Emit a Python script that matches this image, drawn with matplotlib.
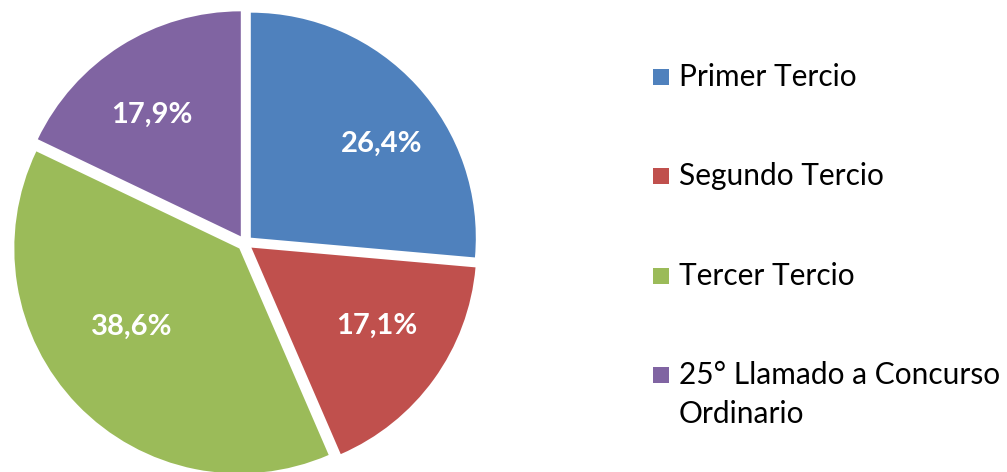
import matplotlib
matplotlib.use("Agg")
import matplotlib.pyplot as plt
from matplotlib.patches import Rectangle

# Data
categories = ["Primer Tercio", "Segundo Tercio", "Tercer Tercio",
              "25° Llamado a Concurso\nOrdinario"]
shares = [26.4, 17.1, 38.6, 17.9]
colors = ["#4F81BD", "#C0504D", "#9BBB59", "#8064A2"]

# Layout
W, H, DPI = 1007, 472, 100
R_PX = 225.0                     # pie radius in pixels
CX, CY = 245.0, 243.0            # pie centre (pixels from top-left)
label_pos = [(0.609, 0.44), (0.587, -0.369), (-0.502, -0.374), (-0.413, 0.57)]
font = "Lato"

fig = plt.figure(figsize=(W / DPI, H / DPI), dpi=DPI)
fig.patch.set_facecolor("white")

lim = 1.1
side = 2 * lim * R_PX
ax = fig.add_axes([(CX - side / 2) / W, ((H - CY) - side / 2) / H, side / W, side / H])
wedges, _ = ax.pie(shares, colors=colors, startangle=90, counterclock=False,
                   explode=[0.035] * len(shares), radius=1.0,
                   wedgeprops=dict(linewidth=0))
ax.set_xlim(-lim, lim)
ax.set_ylim(-lim, lim)
ax.set_aspect("equal")
ax.axis("off")

for v, (x, y) in zip(shares, label_pos):
    ax.text(x, y, f"{v:.1f}%".replace(".", ","), ha="center", va="center",
            color="white", fontsize=21, fontweight="bold", family=font)

# Legend drawn as squares and labels
leg_x, leg_y0, leg_step, sq = 653, 77, 99.3, 16
for i, (name, c) in enumerate(zip(categories, colors)):
    yc = leg_y0 + i * leg_step
    fig.add_artist(Rectangle((leg_x / W, (H - yc - sq / 2) / H), sq / W, sq / H,
                             transform=fig.transFigure, facecolor=c, edgecolor="none"))
    fig.text((leg_x + sq + 10) / W, (H - yc + 14) / H, name, ha="left", va="top",
             fontsize=21.5, family=font, color="black", linespacing=1.5,
             transform=fig.transFigure)

fig.savefig("out.png", dpi=DPI, facecolor="white")
